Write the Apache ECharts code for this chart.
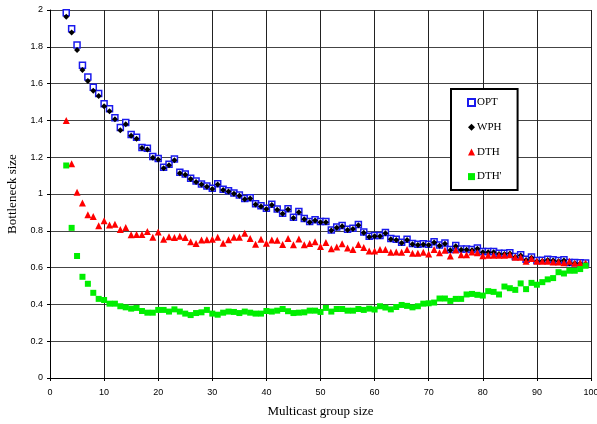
<!DOCTYPE html>
<html>
<head>
<meta charset="utf-8">
<script src="https://cdn.jsdelivr.net/npm/echarts@6/dist/echarts.min.js"></script>
<style>
  html, body { margin: 0; padding: 0; background: #fff; }
  #main { width: 597px; height: 424px; }
</style>
</head>
<body>
<div id="main"></div>
<script>
// multicast group size (x)
var groupSize = [3, 4, 5, 6, 7, 8, 9, 10, 11, 12, 13, 14, 15, 16, 17, 18, 19, 20,
    21, 22, 23, 24, 25, 26, 27, 28, 29, 30, 31, 32, 33, 34, 35, 36, 37, 38, 39, 40,
    41, 42, 43, 44, 45, 46, 47, 48, 49, 50, 51, 52, 53, 54, 55, 56, 57, 58, 59, 60,
    61, 62, 63, 64, 65, 66, 67, 68, 69, 70, 71, 72, 73, 74, 75, 76, 77, 78, 79, 80,
    81, 82, 83, 84, 85, 86, 87, 88, 89, 90, 91, 92, 93, 94, 95, 96, 97, 98, 99];

var opt = [1.985, 1.898, 1.81, 1.70, 1.636, 1.58, 1.546, 1.49, 1.463, 1.414, 1.361, 1.388,
    1.324, 1.308, 1.253, 1.248, 1.204, 1.193, 1.146, 1.162, 1.19, 1.118, 1.109, 1.086,
    1.07, 1.055, 1.044, 1.031, 1.056, 1.026, 1.018, 1.005, 0.995, 0.976, 0.98, 0.947,
    0.936, 0.923, 0.944, 0.918, 0.896, 0.92, 0.873, 0.905, 0.867, 0.851, 0.86, 0.851,
    0.851, 0.805, 0.821, 0.829, 0.809, 0.814, 0.834, 0.794, 0.77, 0.774, 0.774, 0.791,
    0.758, 0.754, 0.738, 0.754, 0.731, 0.727, 0.729, 0.727, 0.741, 0.723, 0.734, 0.698,
    0.72, 0.701, 0.701, 0.698, 0.707, 0.687, 0.687, 0.687, 0.678, 0.678, 0.681, 0.661,
    0.67, 0.645, 0.657, 0.638, 0.64, 0.645, 0.642, 0.638, 0.642, 0.628, 0.628, 0.626, 0.625];

var wph = [1.963, 1.878, 1.783, 1.674, 1.614, 1.561, 1.532, 1.477, 1.45, 1.406, 1.346, 1.379,
    1.317, 1.30, 1.25, 1.242, 1.197, 1.187, 1.14, 1.156, 1.184, 1.113, 1.104, 1.081,
    1.065, 1.051, 1.04, 1.027, 1.052, 1.022, 1.014, 1.001, 0.991, 0.972, 0.976, 0.943,
    0.932, 0.919, 0.94, 0.914, 0.892, 0.916, 0.869, 0.901, 0.863, 0.847, 0.856, 0.847,
    0.847, 0.801, 0.817, 0.825, 0.805, 0.81, 0.83, 0.79, 0.766, 0.77, 0.77, 0.787,
    0.754, 0.75, 0.734, 0.75, 0.727, 0.723, 0.725, 0.723, 0.737, 0.719, 0.73, 0.694,
    0.716, 0.697, 0.697, 0.694, 0.703, 0.683, 0.683, 0.683, 0.674, 0.674, 0.677, 0.657,
    0.666, 0.641, 0.653, 0.634, 0.636, 0.641, 0.638, 0.634, 0.638, 0.624, 0.624, 0.622, 0.621];

var dth = [1.40, 1.165, 1.009, 0.951, 0.887, 0.878, 0.827, 0.854, 0.831, 0.836, 0.807, 0.818,
    0.778, 0.78, 0.78, 0.796, 0.765, 0.794, 0.754, 0.767, 0.763, 0.77, 0.763, 0.74,
    0.731, 0.75, 0.752, 0.754, 0.765, 0.732, 0.752, 0.765, 0.765, 0.787, 0.758, 0.727,
    0.754, 0.732, 0.75, 0.749, 0.725, 0.758, 0.724, 0.756, 0.724, 0.731, 0.741, 0.714,
    0.736, 0.703, 0.712, 0.729, 0.707, 0.698, 0.725, 0.709, 0.69, 0.69, 0.699, 0.699,
    0.683, 0.685, 0.683, 0.698, 0.678, 0.678, 0.683, 0.674, 0.698, 0.681, 0.694, 0.663,
    0.696, 0.67, 0.67, 0.685, 0.681, 0.665, 0.667, 0.667, 0.667, 0.667, 0.67, 0.656,
    0.656, 0.634, 0.649, 0.634, 0.634, 0.634, 0.631, 0.631, 0.627, 0.634, 0.623, 0.627, 0.623];

var dthPrime = [1.155, 0.816, 0.663, 0.55, 0.512, 0.463, 0.43, 0.424, 0.404, 0.404, 0.39, 0.384,
    0.377, 0.381, 0.364, 0.355, 0.355, 0.37, 0.37, 0.361, 0.373, 0.361, 0.35, 0.342,
    0.353, 0.357, 0.37, 0.35, 0.344, 0.355, 0.361, 0.359, 0.353, 0.361, 0.355, 0.35,
    0.35, 0.364, 0.361, 0.366, 0.375, 0.363, 0.353, 0.355, 0.357, 0.366, 0.366, 0.359,
    0.381, 0.361, 0.375, 0.375, 0.366, 0.366, 0.375, 0.37, 0.377, 0.372, 0.39, 0.383,
    0.373, 0.386, 0.397, 0.392, 0.384, 0.39, 0.404, 0.406, 0.41, 0.432, 0.432, 0.419,
    0.43, 0.43, 0.454, 0.457, 0.452, 0.448, 0.472, 0.468, 0.454, 0.497, 0.488, 0.479,
    0.514, 0.483, 0.517, 0.507, 0.521, 0.536, 0.543, 0.575, 0.568, 0.583, 0.583, 0.592, 0.61];

var seriesNames = ['OPT', 'WPH', 'DTH', "DTH'"];

function pairs(ys) {
    var out = [];
    for (var i = 0; i < groupSize.length; i++) {
        out.push([groupSize[i], ys[i]]);
    }
    return out;
}

var serif = '"Liberation Serif", "Times New Roman", serif';
var sans = '"Liberation Sans", Arial, sans-serif';

var myChart = echarts.init(document.getElementById('main'), null, { renderer: 'canvas' });

var option = {
    animation: false,
    backgroundColor: '#fff',
    grid: { left: 50, right: 6, top: 10, bottom: 46, outerBoundsMode: 'none' },

    // legend box on the right
    legend: {
        orient: 'vertical',
        left: 451,
        top: 89,
        data: seriesNames,
        backgroundColor: '#fff',
        borderColor: '#000',
        borderWidth: 2,
        borderRadius: 0,
        padding: [8, 16, 8, 16],
        itemGap: 13.7,
        itemWidth: 7,
        itemHeight: 7,
        textStyle: { fontFamily: serif, fontSize: 11, color: '#000', padding: [0, 0, 0, -3] }
    },

    xAxis: {
        type: 'value',
        min: 0,
        max: 100,
        interval: 10,
        name: 'Multicast group size',
        nameLocation: 'middle',
        nameGap: 27,
        nameTextStyle: { fontFamily: serif, fontSize: 13, color: '#000' },
        axisLine: { lineStyle: { color: '#000', width: 1 } },
        axisTick: { show: true, length: 3, lineStyle: { color: '#000' } },
        axisLabel: { fontFamily: sans, fontSize: 9, color: '#000', margin: 10 },
        splitLine: { show: true, lineStyle: { color: '#222', width: 1 } }
    },
    yAxis: {
        type: 'value',
        min: 0,
        max: 2,
        interval: 0.2,
        name: 'Bottleneck size',
        nameLocation: 'middle',
        nameGap: 31,
        nameTextStyle: { fontFamily: serif, fontSize: 13, color: '#000' },
        axisLine: { show: true, lineStyle: { color: '#000', width: 1 } },
        axisTick: { show: true, length: 3, lineStyle: { color: '#000' } },
        axisLabel: { fontFamily: sans, fontSize: 9, color: '#000', margin: 7 },
        splitLine: { show: true, lineStyle: { color: '#444', width: 1 } }
    },

    series: [{
        name: 'OPT',
        type: 'scatter',
        symbol: 'rect',
        symbolSize: 6,
        itemStyle: { color: '#fff', borderColor: '#1a1aee', borderWidth: 1.5, opacity: 1 },
        data: pairs(opt)
    }, {
        name: 'WPH',
        type: 'scatter',
        symbol: 'diamond',
        symbolSize: 6,
        itemStyle: { color: '#000', opacity: 1 },
        data: pairs(wph)
    }, {
        name: 'DTH',
        type: 'scatter',
        symbol: 'triangle',
        symbolSize: 7,
        itemStyle: { color: '#ff0000', opacity: 1 },
        data: pairs(dth)
    }, {
        name: "DTH'",
        type: 'scatter',
        symbol: 'rect',
        symbolSize: 6,
        itemStyle: { color: '#00ee00', opacity: 1 },
        data: pairs(dthPrime)
    }]
};

myChart.setOption(option);
</script>
</body>
</html>
